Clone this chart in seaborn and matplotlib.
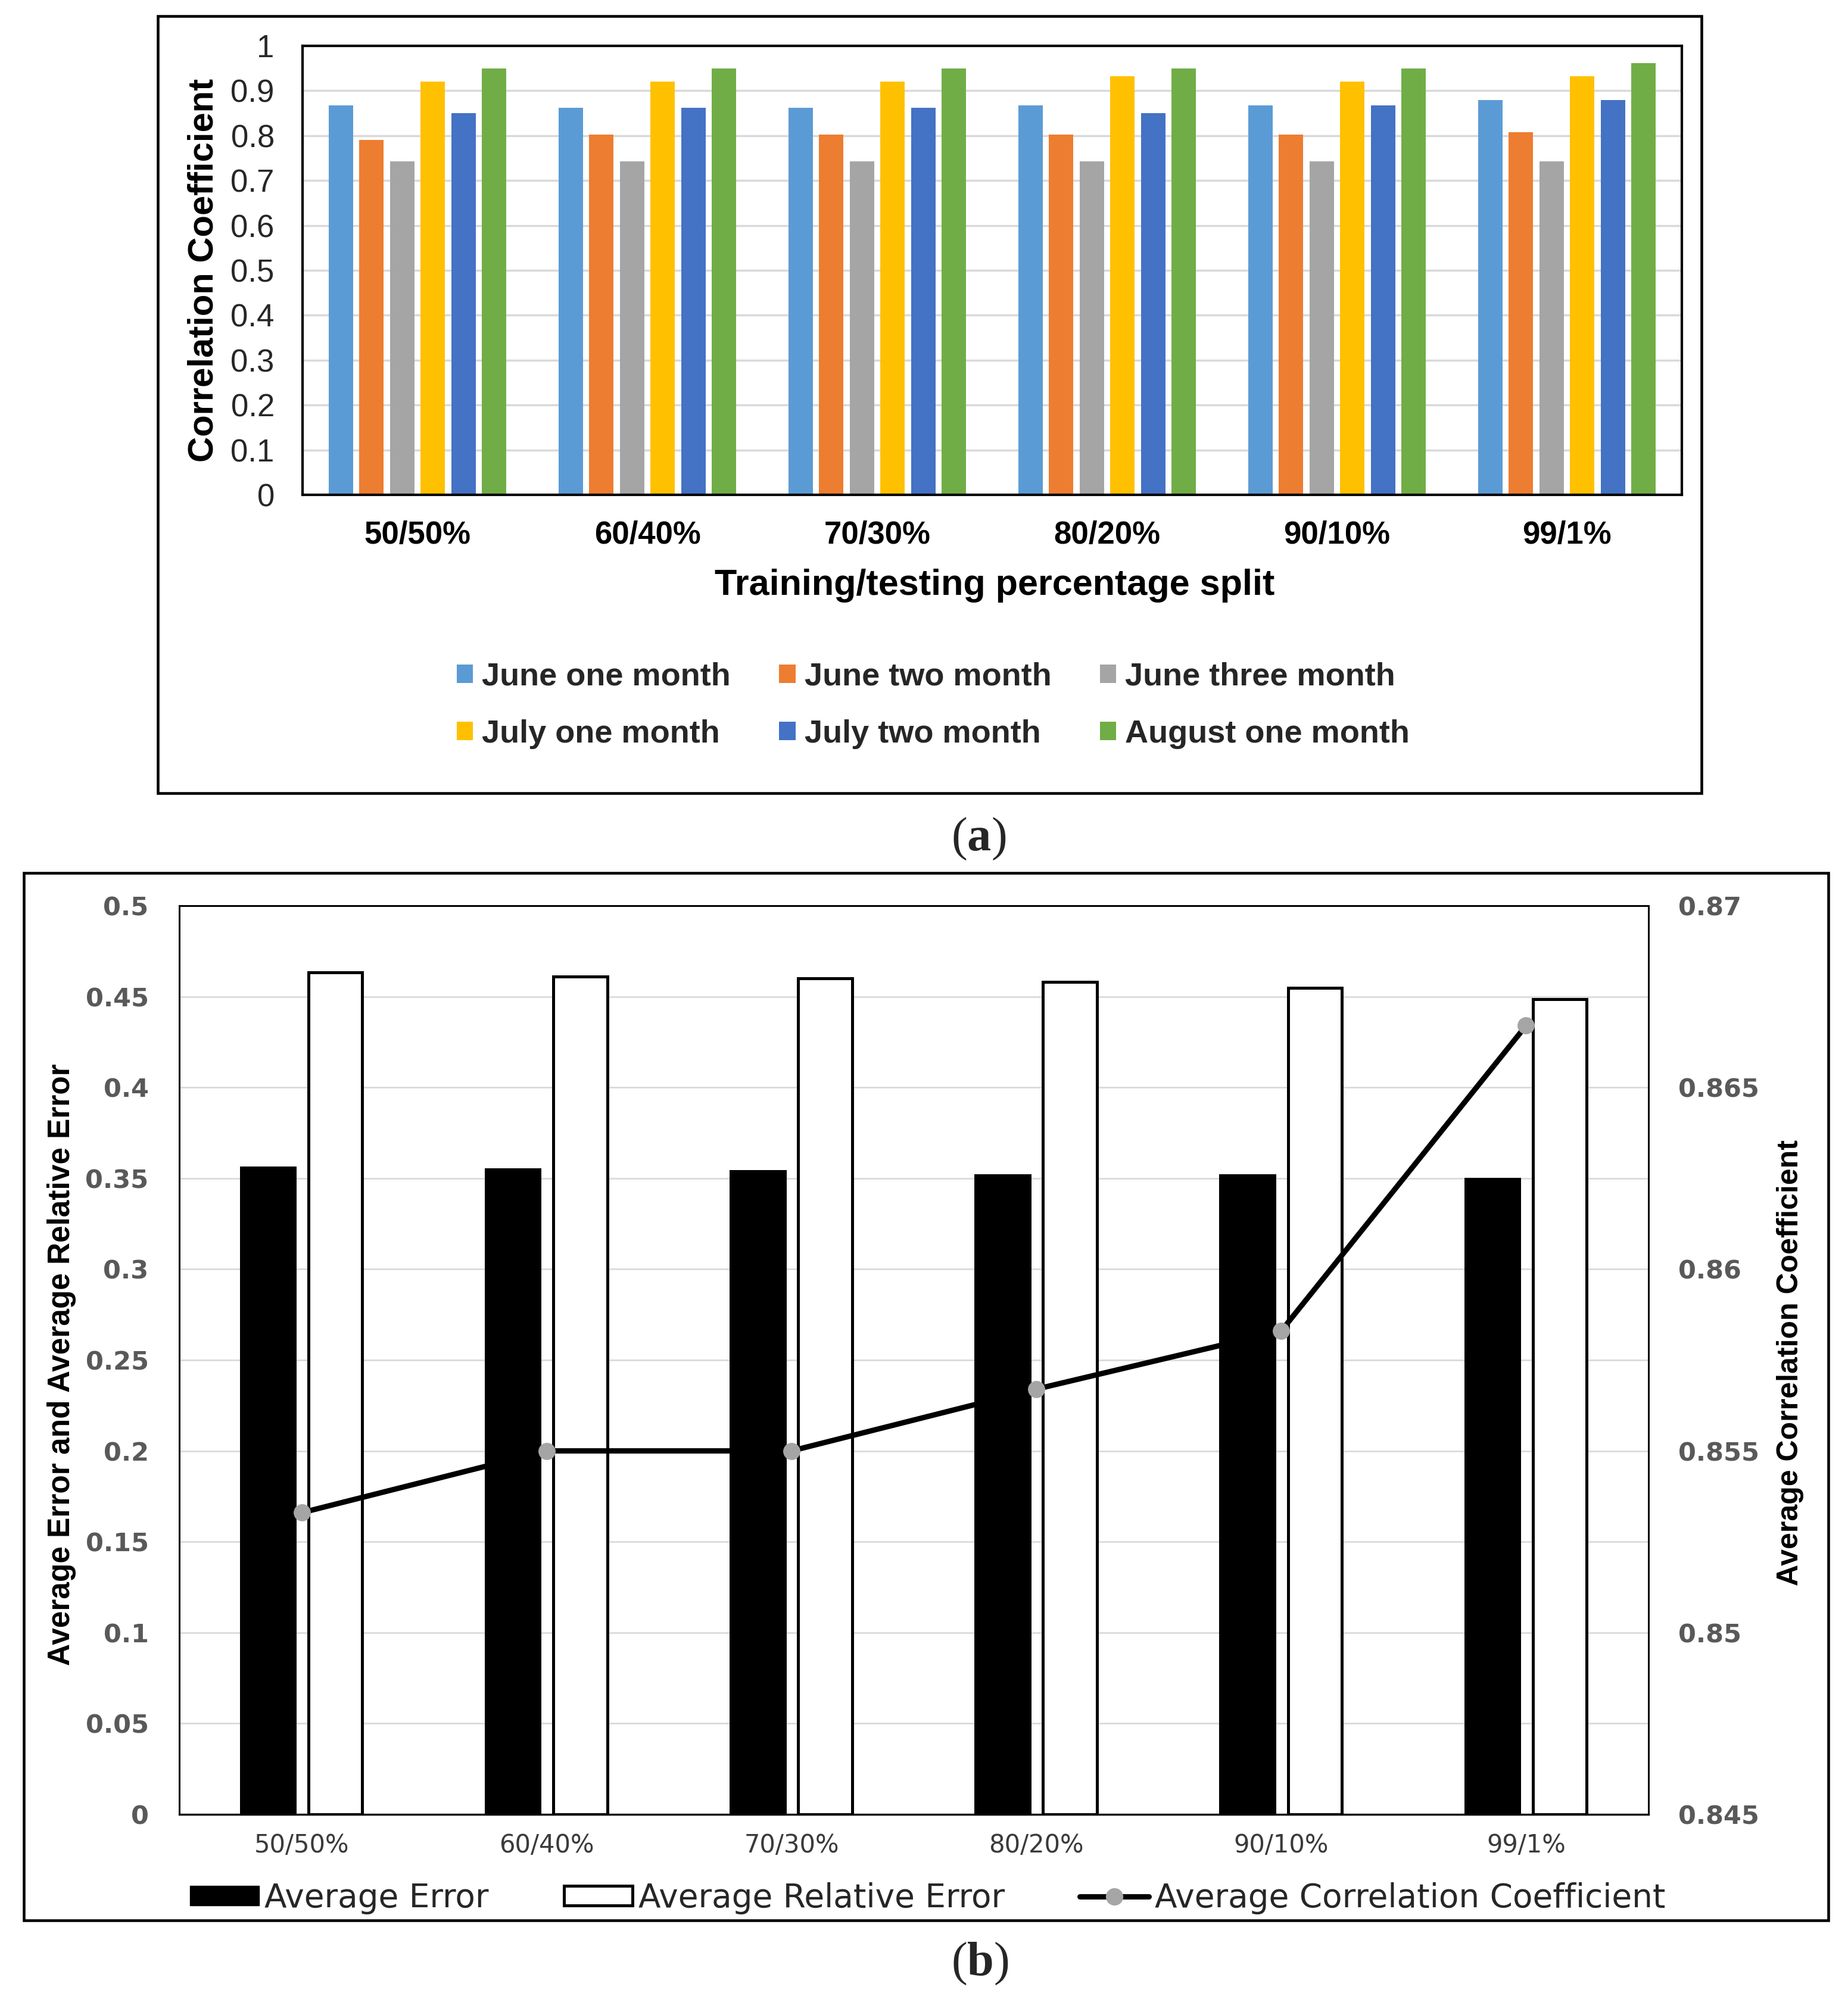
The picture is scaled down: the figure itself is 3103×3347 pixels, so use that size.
import numpy as np
import pandas as pd
import matplotlib
matplotlib.use("Agg")
import matplotlib.pyplot as plt
import seaborn as sns
from matplotlib.patches import Rectangle, Patch
from matplotlib.lines import Line2D
from matplotlib import font_manager
from matplotlib.ticker import FixedLocator, FuncFormatter

# ---------------- data ----------------
splits = ["50/50%", "60/40%", "70/30%", "80/20%", "90/10%", "99/1%"]

series_names = ["June one month", "June two month", "June three month",
                "July one month", "July two month", "August one month"]
series_colors = ["#5B9BD5", "#ED7D31", "#A5A5A5", "#FFC000", "#4472C4", "#70AD47"]

june_one = [0.867, 0.862, 0.862, 0.867, 0.867, 0.879]
june_two = [0.790, 0.802, 0.802, 0.802, 0.802, 0.808]
june_three = [0.743, 0.743, 0.743, 0.743, 0.743, 0.743]
july_one = [0.920, 0.920, 0.920, 0.932, 0.920, 0.932]
july_two = [0.850, 0.862, 0.862, 0.850, 0.867, 0.879]
august_one = [0.950, 0.950, 0.950, 0.950, 0.950, 0.962]

metrics = ["Average Error", "Average Relative Error"]
avg_error = [0.3558, 0.3548, 0.3538, 0.3515, 0.3515, 0.3495]
avg_rel_error = [0.4633, 0.4611, 0.4600, 0.4580, 0.4547, 0.4484]
avg_corr = [0.8533, 0.8550, 0.8550, 0.8567, 0.8583, 0.8667]
corr_label = "Average Correlation Coefficient"

# ---------------- style ----------------
W, H = 3103, 3347
sns.set_theme(style="white")
plt.rcParams["font.family"] = ["Liberation Sans", "DejaVu Sans"]
plt.rcParams["mathtext.fontset"] = "custom"
plt.rcParams["mathtext.rm"] = "Liberation Serif"
plt.rcParams["mathtext.bf"] = "Liberation Serif:bold"

names = {f.name for f in font_manager.fontManager.ttflist}
NARROW = "Liberation Sans Narrow" in names
lab_family = ["Liberation Sans Narrow", "DejaVu Sans"] if NARROW else ["Liberation Sans", "DejaVu Sans"]
lab_left_size = 46 if NARROW else 37
lab_right_size = 45 if NARROW else 36

fig = plt.figure(figsize=(W / 100, H / 100), dpi=100)


def box(l, t, r, b):
    return [l / W, 1 - b / H, (r - l) / W, (b - t) / H]


def frame(l, t, r, b, lw=3.3):
    fig.add_artist(Rectangle((l / W, 1 - b / H), (r - l) / W, (b - t) / H,
                             transform=fig.transFigure, fill=False,
                             edgecolor="black", linewidth=lw, zorder=0))


fmt = FuncFormatter(lambda v, p: f"{round(v, 4):g}")

# ---------------- panel (a) ----------------
ax1 = fig.add_axes(box(508, 77, 2824, 831))
vals_a = [june_one, june_two, june_three, july_one, july_two, august_one]
df1 = pd.DataFrame({
    "split": np.tile(splits, len(series_names)),
    "series": np.repeat(series_names, len(splits)),
    "value": np.concatenate(vals_a),
})
sns.barplot(data=df1, x="split", y="value", hue="series", order=splits,
            hue_order=series_names, palette=dict(zip(series_names, series_colors)),
            width=0.8, gap=0.2, saturation=1, errorbar=None, linewidth=0,
            legend=False, ax=ax1)
ax1.set_ylim(0, 1)
ax1.yaxis.set_major_locator(FixedLocator(np.linspace(0, 1, 11)))
ax1.yaxis.set_major_formatter(fmt)
ax1.grid(axis="y", color="#D9D9D9", linewidth=2.5)
ax1.grid(axis="x", visible=False)
ax1.set_axisbelow(True)
ax1.tick_params(axis="y", length=0, pad=34, labelsize=38, labelcolor="#262626")
ax1.tick_params(axis="x", length=0, pad=31, labelsize=38, labelcolor="black")
for t in ax1.get_xticklabels():
    t.set_fontweight("bold")
for s in ax1.spines.values():
    s.set_visible(True)
    s.set_color("black")
    s.set_linewidth(3)
ax1.set_ylabel("Correlation Coefficient", fontsize=43, fontweight="bold", color="black")
ax1.yaxis.set_label_coords(-0.060, 0.5)
ax1.set_xlabel("Training/testing percentage split", fontsize=44, fontweight="bold", color="black")
ax1.xaxis.set_label_coords(0.502, -0.165)

order = [0, 3, 1, 4, 2, 5]
h1 = [Patch(facecolor=series_colors[i], edgecolor="none") for i in order]
l1 = [series_names[i] for i in order]
fig.legend(h1, l1, ncol=3, loc="center", bbox_to_anchor=(0.505, 0.6460),
           frameon=False, prop={"weight": "bold", "size": 39},
           handlelength=0.5, handleheight=0.5, handletextpad=0.28,
           columnspacing=1.5, labelspacing=0.85, borderpad=0, borderaxespad=0)

frame(265, 27, 2857, 1332)
fig.text(0.5295, 1 - 1409 / H, r"$\mathrm{(}\mathbf{a}\mathrm{)}$",
         ha="center", va="center", fontsize=58)

# ---------------- panel (b) ----------------
ax2 = fig.add_axes(box(301, 1521, 2768, 3047))
df2 = pd.DataFrame({
    "split": np.tile(splits, 2),
    "metric": np.repeat(metrics, len(splits)),
    "value": np.concatenate([avg_error, avg_rel_error]),
})
sns.barplot(data=df2, x="split", y="value", hue="metric", order=splits,
            hue_order=metrics, palette={metrics[0]: "black", metrics[1]: "white"},
            width=0.55, gap=0.2, saturation=1, errorbar=None,
            edgecolor="black", linewidth=3.6, legend=False, ax=ax2)

ax2t = ax2.twinx()
sns.lineplot(x=splits, y=avg_corr, sort=False, ax=ax2t, color="black",
             linewidth=6.5, marker="o", markersize=20,
             markerfacecolor="#A5A5A5", markeredgecolor="#A5A5A5")
ax2.set_xlim(-0.5, len(splits) - 0.5)

ax2.set_ylim(0, 0.5)
ax2.yaxis.set_major_locator(FixedLocator(np.linspace(0, 0.5, 11)))
ax2.yaxis.set_major_formatter(fmt)
ax2t.set_ylim(0.845, 0.87)
ax2t.yaxis.set_major_locator(FixedLocator(np.linspace(0.845, 0.87, 6)))
ax2t.yaxis.set_major_formatter(fmt)

ax2.grid(axis="y", color="#D9D9D9", linewidth=1.9)
ax2.grid(axis="x", visible=False)
ax2t.grid(False)
ax2.set_axisbelow(True)

ax2.tick_params(axis="y", length=0, pad=37, labelsize=31, labelcolor="#595959",
                labelfontfamily="DejaVu Sans")
ax2t.tick_params(axis="y", length=0, pad=36, labelsize=31, labelcolor="#595959",
                 labelfontfamily="DejaVu Sans")
ax2.tick_params(axis="x", length=0, pad=22, labelsize=30, labelcolor="#3a3a3a",
                labelfontfamily="DejaVu Sans")
for t in ax2.get_yticklabels() + ax2t.get_yticklabels():
    t.set_fontweight("bold")

for a in (ax2, ax2t):
    for s in a.spines.values():
        s.set_visible(True)
        s.set_color("black")
        s.set_linewidth(2)
ax2.spines["bottom"].set_linewidth(2.4)

ax2.set_xlabel("")
ax2.set_ylabel("Average Error and Average Relative Error", fontsize=lab_left_size,
               fontweight="bold", family=lab_family, color="black")
ax2.yaxis.set_label_coords(-0.070, 0.495)
ax2t.set_ylabel(corr_label, fontsize=lab_right_size, fontweight="bold",
                family=lab_family, color="black")
ax2t.yaxis.set_label_coords(1.087, 0.497)

h2 = [Patch(facecolor="black", edgecolor="black", linewidth=1),
      Patch(facecolor="white", edgecolor="black", linewidth=3.6),
      Line2D([], [], color="black", linewidth=6.5, marker="o", markersize=20,
             markerfacecolor="#A5A5A5", markeredgecolor="#A5A5A5")]
l2 = metrics + [corr_label]
fig.legend(h2, l2, ncol=3, loc="center", bbox_to_anchor=(0.502, 1 - 3188 / H),
           frameon=False, prop={"family": "DejaVu Sans", "size": 39.5},
           labelcolor="#262626", handlelength=2.1, handleheight=0.55,
           handletextpad=0.18, columnspacing=2.3, borderpad=0, borderaxespad=0)

frame(40, 1466, 3070, 3225)
fig.text(1645 / W, 1 - 3298 / H, r"$\mathrm{(}\mathbf{b}\mathrm{)}$",
         ha="center", va="center", fontsize=58)

fig.savefig("out.png", dpi=100)
